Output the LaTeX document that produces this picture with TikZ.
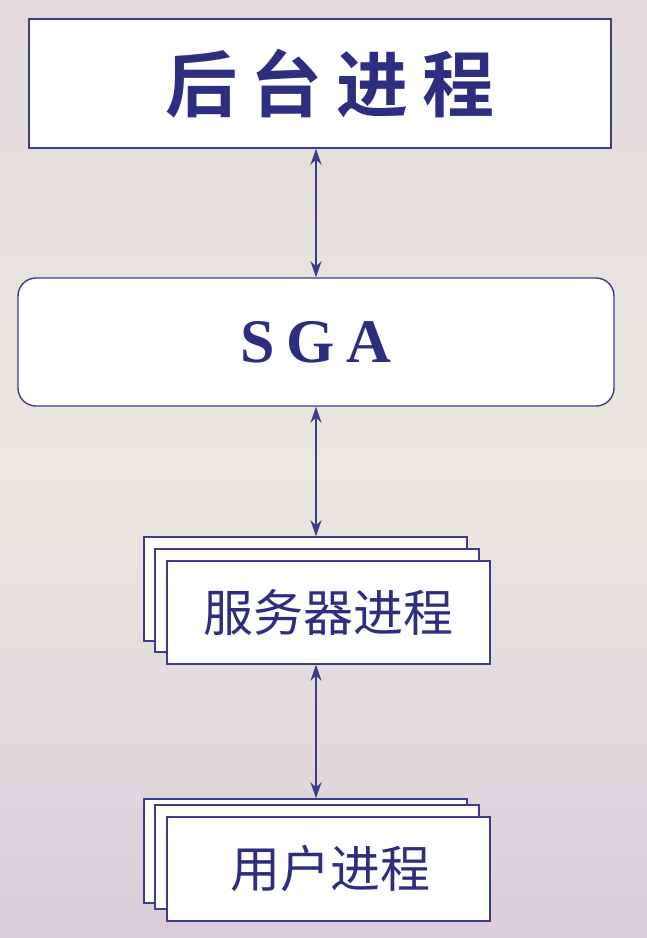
\documentclass[tikz,border=0pt]{standalone}
\usepackage{fontspec}
\setmainfont{Liberation Serif}
\newfontfamily\cjk{Noto Sans CJK SC}
\newfontfamily\cjkb{Noto Sans CJK SC Bold}
\usetikzlibrary{arrows.meta,calc}
\definecolor{navy}{HTML}{2E2E80}
\definecolor{edge}{HTML}{3C3C8A}
\definecolor{bgtop}{HTML}{E0DADC}
\definecolor{bgmid}{HTML}{EAE8DF}
\definecolor{bgbot}{HTML}{DBCDDA}
\tikzset{
  box/.style={draw=edge, line width=1.4pt, fill=white, inner sep=0pt, text=navy},
  rbox/.style={box, rounded corners=18pt},
  arr/.style={draw=edge, line width=1.4pt, {Stealth[length=16pt,width=11pt,inset=5pt]}-{Stealth[length=16pt,width=11pt,inset=5pt]}}
}
\begin{document}
\begin{tikzpicture}[x=1pt,y=-1pt]
\useasboundingbox (0,0) rectangle (647,938);
\shade[top color=bgtop, bottom color=bgmid] (0,0) rectangle (647,470);
\shade[top color=bgmid, bottom color=bgbot] (0,469.5) rectangle (647,938);
% top box
\node[box, minimum width=582pt, minimum height=129pt] (top) at (320,83.5)
  {\hspace*{20pt}\fontsize{72pt}{80pt}\cjkb 后\hspace{14pt}台\hspace{14pt}进\hspace{14pt}程};
% SGA
\node[rbox, minimum width=596pt, minimum height=128pt] (sga) at (316,342)
  {\fontsize{62pt}{70pt}\selectfont\bfseries S\hspace{12pt}G\hspace{12pt}A};
% server stack
\node[box, minimum width=323pt, minimum height=104pt] (srvb) at (305.5,589) {};
\node[box, minimum width=324pt, minimum height=103pt] (srvm) at (317,600.5) {};
\node[box, minimum width=323pt, minimum height=103pt] (srv) at (328.5,612.5)
  {\fontsize{50pt}{56pt}\cjk 服务器进程};
% user stack
\node[box, minimum width=323pt, minimum height=104pt] (usrb) at (305.5,851) {};
\node[box, minimum width=324pt, minimum height=104pt] (usrm) at (317,857) {};
\node[box, minimum width=323pt, minimum height=104pt] (usr) at (328.5,869)
  {\fontsize{50pt}{56pt}\cjk \hspace*{4pt}用户进程};
% arrows
\draw[arr] (top.south -| sga.north) -- (sga.north);
\draw[arr] (sga.south) -- (srvb.north -| sga.south);
\draw[arr] (srv.south -| sga.south) -- (usrb.north -| sga.south);
\end{tikzpicture}
\end{document}
